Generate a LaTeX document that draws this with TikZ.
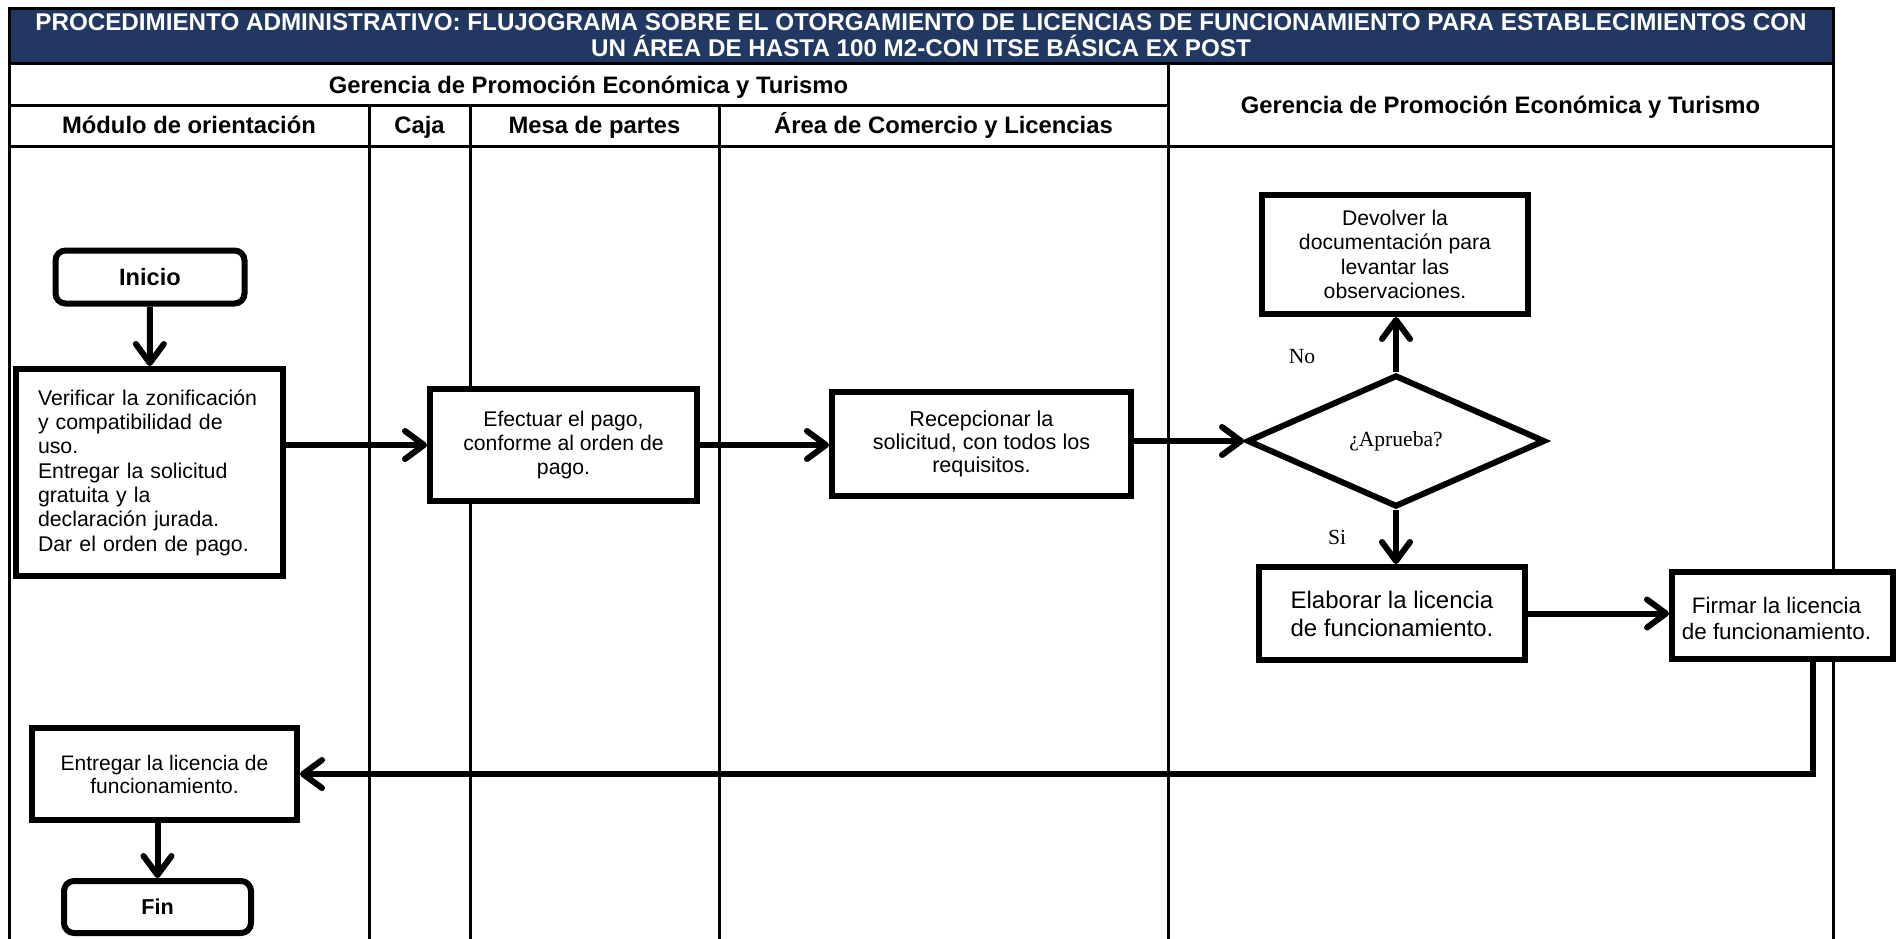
\documentclass[tikz,border=0pt]{standalone}
\usepackage{fontspec}
\setmainfont{Liberation Sans}
\newfontfamily\serifface{Liberation Serif}
\usetikzlibrary{arrows.meta,shapes.geometric}
\definecolor{bandblue}{RGB}{33,56,98}

\begin{document}
\begin{tikzpicture}[x=0.5pt,y=-0.5pt,
  grid/.style={line width=1.5pt},
  box/.style={draw,line width=3pt,fill=white,inner sep=0pt,align=center,
    font=\fontsize{10.6}{12}\selectfont},
  term/.style={box,rounded corners=5pt,font=\bfseries\fontsize{11.8}{14}\selectfont},
  flow/.style={line width=3pt,-{Straight Barb[length=9.5pt,width=14pt,round]}},
  hdr/.style={anchor=base,inner sep=0pt,font=\bfseries\fontsize{11.9}{14}\selectfont},
  lbl/.style={font=\serifface\fontsize{10.8}{13}\selectfont}
]
\useasboundingbox (0,0) rectangle (1898,938);

% --- swimlane table ---
\fill[bandblue] (9,8) rectangle (1833,63);
\draw[grid] (9,8) -- (1833,8);
\draw[grid] (9,63) -- (1833,63);
\draw[grid] (9,105) -- (1168,105);
\draw[grid] (9,146) -- (1833,146);
\draw[grid] (9,7) -- (9,945);
\draw[grid] (1833,7) -- (1833,945);
\draw[grid] (369,105) -- (369,945);
\draw[grid] (470,105) -- (470,945);
\draw[grid] (719,105) -- (719,945);
\draw[grid] (1168,63) -- (1168,945);

% --- headings ---
\node[text=white,align=center,font=\bfseries\fontsize{12.1}{13}\selectfont] (title) at (921,35)
  {PROCEDIMIENTO ADMINISTRATIVO: FLUJOGRAMA SOBRE EL OTORGAMIENTO DE LICENCIAS DE FUNCIONAMIENTO PARA ESTABLECIMIENTOS CON\\
   UN ÁREA DE HASTA 100 M2-CON ITSE BÁSICA EX POST};
\node[hdr] (gerA) at (588.5,93) {Gerencia de Promoción Económica y Turismo};
\node[hdr] (gerB) at (1500.5,113) {Gerencia de Promoción Económica y Turismo};
\node[hdr] (lmod) at (189,133) {Módulo de orientación};
\node[hdr] (lcaja) at (419.5,133) {Caja};
\node[hdr] (lmesa) at (594.5,133) {Mesa de partes};
\node[hdr] (larea) at (943.5,133) {Área de Comercio y Licencias};

% --- process steps ---
\node[term,minimum width=94.5pt,minimum height=26.5pt] (inicio) at (150,277) {Inicio};
\node[box,minimum width=133.5pt,minimum height=103.5pt,text width=111.5pt,align=left,
  font=\fontsize{10.65}{12.15}\selectfont] (verif) at (149.5,472.5)
  {Verificar la zonificación\\ y compatibilidad de\\ uso.\\ Entregar la solicitud\\ gratuita y la\\ declaración jurada.\\ Dar el orden de pago.};
\node[box,minimum width=133.5pt,minimum height=56pt] (efect) at (563.5,445)
  {Efectuar el pago,\\ conforme al orden de\\ pago.};
\node[box,minimum width=149.5pt,minimum height=52pt,font=\fontsize{10.8}{11.6}\selectfont] (recep) at (981.5,444)
  {Recepcionar la\\ solicitud, con todos los\\ requisitos.};
\node[draw,diamond,line width=3pt,fill=white,inner sep=0pt,minimum width=149pt,minimum height=66pt,
  font=\serifface\fontsize{10.8}{13}\selectfont] (dec) at (1396,441) {\raisebox{2pt}{¿Aprueba?}};
\node[box,minimum width=133pt,minimum height=59.5pt,font=\fontsize{10.6}{12.3}\selectfont] (devol) at (1395,254.5)
  {Devolver la\\ documentación para\\ levantar las\\ observaciones.};
\node[box,minimum width=133pt,minimum height=46.5pt,font=\fontsize{12}{14}\selectfont] (elab) at (1392,613.5)
  {Elaborar la licencia\\ de funcionamiento.};
\node[box,minimum width=110.5pt,minimum height=43.5pt,font=\fontsize{11.2}{12.6}\selectfont] (firm) at (1782.5,615.5)
  {\hspace*{-6pt}\raisebox{-3pt}[\height][\depth]{\begin{tabular}{@{}c@{}}Firmar la licencia\\ de funcionamiento.\end{tabular}}};
\node[box,minimum width=132.5pt,minimum height=46pt,font=\fontsize{10.5}{11.5}\selectfont] (entr) at (164.5,774)
  {Entregar la licencia de\\ funcionamiento.};
\node[term,minimum width=93.5pt,minimum height=26pt,font=\bfseries\fontsize{10.8}{13}\selectfont] (fin) at (157.5,907) {Fin};

% --- branch labels ---
\node[lbl] (lno) at (1302,357) {No};
\node[lbl] (lsi) at (1337,537) {Si};

% --- connectors ---
\coordinate (ret) at (1813,774);
\draw[flow] (inicio) -- (verif);
\draw[flow] (verif.east |- efect.west) -- (efect.west);
\draw[flow] (efect.east) -- (efect.east -| recep.west);
\draw[flow] (recep.east |- dec.west) -- (dec.west);
\draw[flow] (dec.north) -- (dec.north |- devol.south);
\draw[flow] (dec.south) -- (dec.south |- elab.north);
\draw[flow] (elab.east) -- (elab.east -| firm.west);
\draw[flow] (firm.south -| ret) -- (ret) -- (entr.east);
\draw[flow] (entr.south -| fin.north) -- (fin.north);
\end{tikzpicture}
\end{document}
